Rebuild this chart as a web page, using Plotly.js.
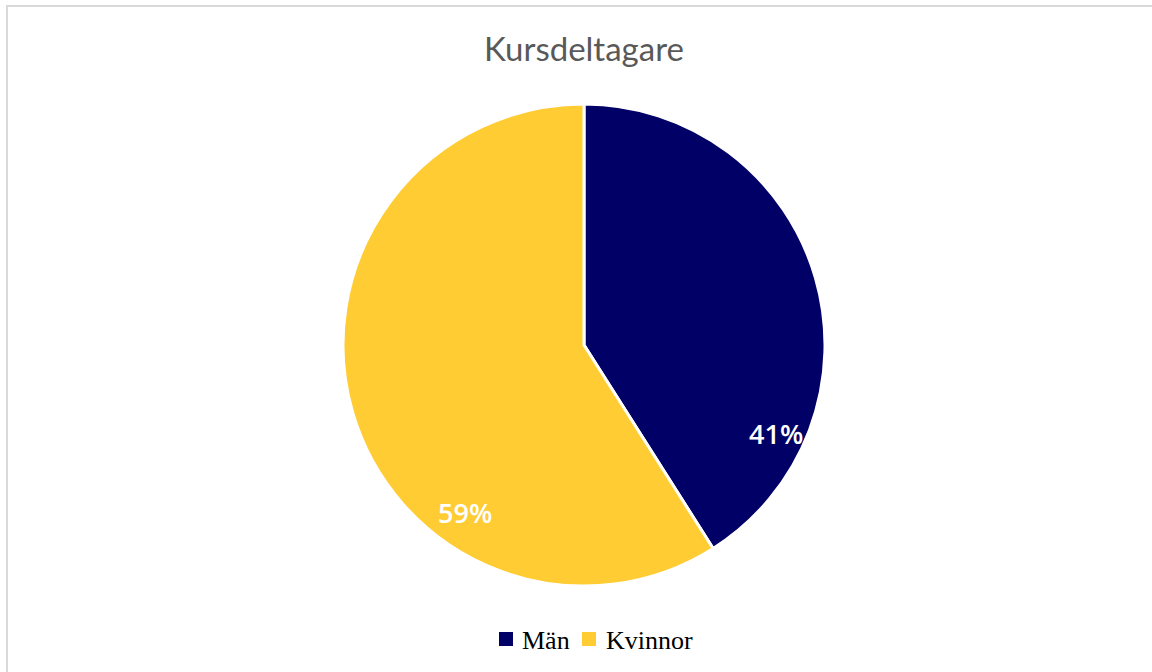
<!DOCTYPE html>
<html>
<head>
<meta charset="utf-8">
<script src="https://cdn.plot.ly/plotly-3.0.1.min.js"></script>
<style>
  html, body { margin: 0; padding: 0; background: #ffffff; }
  #chart { width: 1152px; height: 672px; }
</style>
</head>
<body>
<div id="chart"></div>
<script>
// Data
const titleText = 'Kursdeltagare';
const categories = ['Män', 'Kvinnor'];
const values = [41, 59];
const colors = ['#000066', '#FFCC33'];

const W = 1152, H = 672;
const cx = 584, cy = 345, r = 241;

const total = values.reduce((a, b) => a + b, 0);
const pctText = values.map(v => Math.round(v / total * 100) + '%');

// label positions (pixel) as in reference
const labelPos = [[776, 433], [465, 512]];
// legend layout (pixel): square left edge, text left edge
const legendItems = [[499, 520], [582, 604]];
const legendY = 639;
const sq = 14;

const trace = {
  type: 'pie',
  labels: categories,
  values: values,
  sort: false,
  direction: 'clockwise',
  rotation: 0,
  textinfo: 'none',
  hoverinfo: 'label+percent',
  showlegend: false,
  marker: { colors: colors, line: { color: '#ffffff', width: 3 } },
  domain: {
    x: [(cx - r) / W, (cx + r) / W],
    y: [(H - cy - r) / H, (H - cy + r) / H]
  }
};

const px = x => x / W;
const py = y => 1 - y / H;

const annotations = pctText.map((t, i) => ({
  text: t,
  xref: 'paper', yref: 'paper',
  x: px(labelPos[i][0]), y: py(labelPos[i][1]),
  xanchor: 'center', yanchor: 'middle',
  showarrow: false,
  font: { family: 'Open Sans, sans-serif', size: 27, color: '#ffffff', weight: 600 }
}));

categories.forEach((c, i) => {
  annotations.push({
    text: c,
    xref: 'paper', yref: 'paper',
    x: px(legendItems[i][1]), y: py(legendY + 1),
    xanchor: 'left', yanchor: 'middle',
    showarrow: false,
    font: { family: 'Liberation Serif, serif', size: 26, color: '#000000' }
  });
});

const shapes = [{
  type: 'path',
  xref: 'paper', yref: 'paper',
  path: 'M ' + px(7) + ' 0 L ' + px(7) + ' ' + py(6) + ' L 1 ' + py(6),
  line: { color: '#d9d9d9', width: 2 }
}];
categories.forEach((c, i) => {
  shapes.push({
    type: 'rect',
    xref: 'paper', yref: 'paper',
    x0: px(legendItems[i][0]), x1: px(legendItems[i][0] + sq),
    y0: py(legendY - sq / 2), y1: py(legendY + sq / 2),
    fillcolor: colors[i],
    line: { width: 0 }
  });
});

const layout = {
  width: W, height: H,
  margin: { l: 0, r: 0, t: 0, b: 0 },
  paper_bgcolor: '#ffffff',
  title: {
    text: titleText,
    x: px(584), xanchor: 'center',
    y: py(49), yanchor: 'middle',
    font: { family: 'Lato, Open Sans, sans-serif', size: 33, color: '#595959' }
  },
  showlegend: false,
  annotations: annotations,
  shapes: shapes
};

Plotly.newPlot('chart', [trace], layout, { displayModeBar: false, staticPlot: true });
</script>
</body>
</html>
